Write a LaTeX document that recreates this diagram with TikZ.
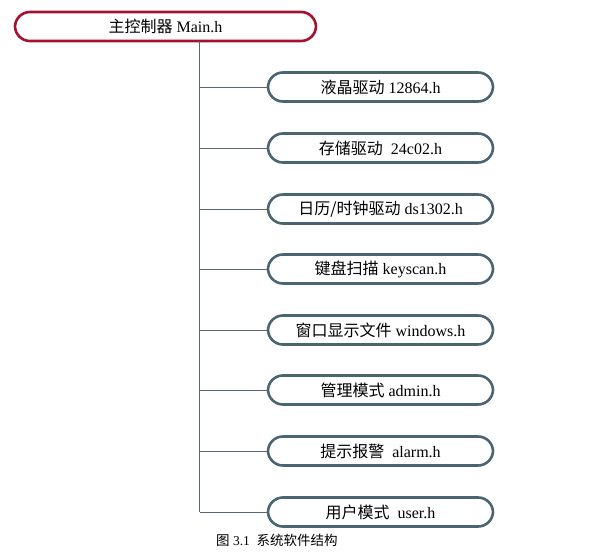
\documentclass[tikz,border=0pt]{standalone}
\usepackage{fontspec}
\setmainfont{Liberation Serif}
\newfontfamily\cjk{Noto Sans CJK SC}
\begin{document}
\begin{tikzpicture}[x=1pt,y=-1pt,
  mainbox/.style={draw=mainred,line width=2.6pt,rounded corners=15pt,minimum width=301pt,minimum height=29pt,inner sep=0pt,font=\fontsize{16pt}{18pt}\selectfont},
  childbox/.style={draw=slate,line width=2.6pt,rounded corners=15pt,minimum width=225pt,minimum height=29pt,inner sep=0pt,font=\fontsize{16pt}{18pt}\selectfont},
  conn/.style={draw=linegray,line width=0.9pt}]
\definecolor{mainred}{HTML}{A3122F}
\definecolor{slate}{HTML}{4A6472}
\definecolor{linegray}{HTML}{5A6678}
\useasboundingbox (0,0) rectangle (591,553);
\node[mainbox] (main) at (165.5,26.5) {{\cjk 主控制器} Main.h};
\node[childbox] (c1) at (380.5,87) {{\cjk 液晶驱动} 12864.h};
\node[childbox] (c2) at (380.5,148) {{\cjk 存储驱动}\ \ 24c02.h};
\node[childbox] (c3) at (380.5,209) {{\cjk 日历/时钟驱动} ds1302.h};
\node[childbox] (c4) at (380.5,269) {{\cjk 键盘扫描} keyscan.h};
\node[childbox] (c5) at (380.5,330) {{\cjk 窗口显示文件} windows.h};
\node[childbox] (c6) at (380.5,390) {{\cjk 管理模式} admin.h};
\node[childbox] (c7) at (380.5,451) {{\cjk 提示报警}\ \ alarm.h};
\node[childbox] (c8) at (380.5,512) {{\cjk 用户模式}\ \ user.h};
\coordinate (top) at (199.5,41);
\coordinate (bot) at (199.5,512);
\draw[conn] (top) -- (bot);
\foreach \c in {c1,c2,c3,c4,c5,c6,c7,c8}{
  \draw[conn] (\c.west -| top) -- (\c.west);
}
\node[font=\fontsize{13.5pt}{15pt}\selectfont,anchor=west,inner sep=0pt] (cap) at (216,540) {{\cjk 图} 3.1\ \ {\cjk 系统软件结构}};
\end{tikzpicture}
\end{document}
